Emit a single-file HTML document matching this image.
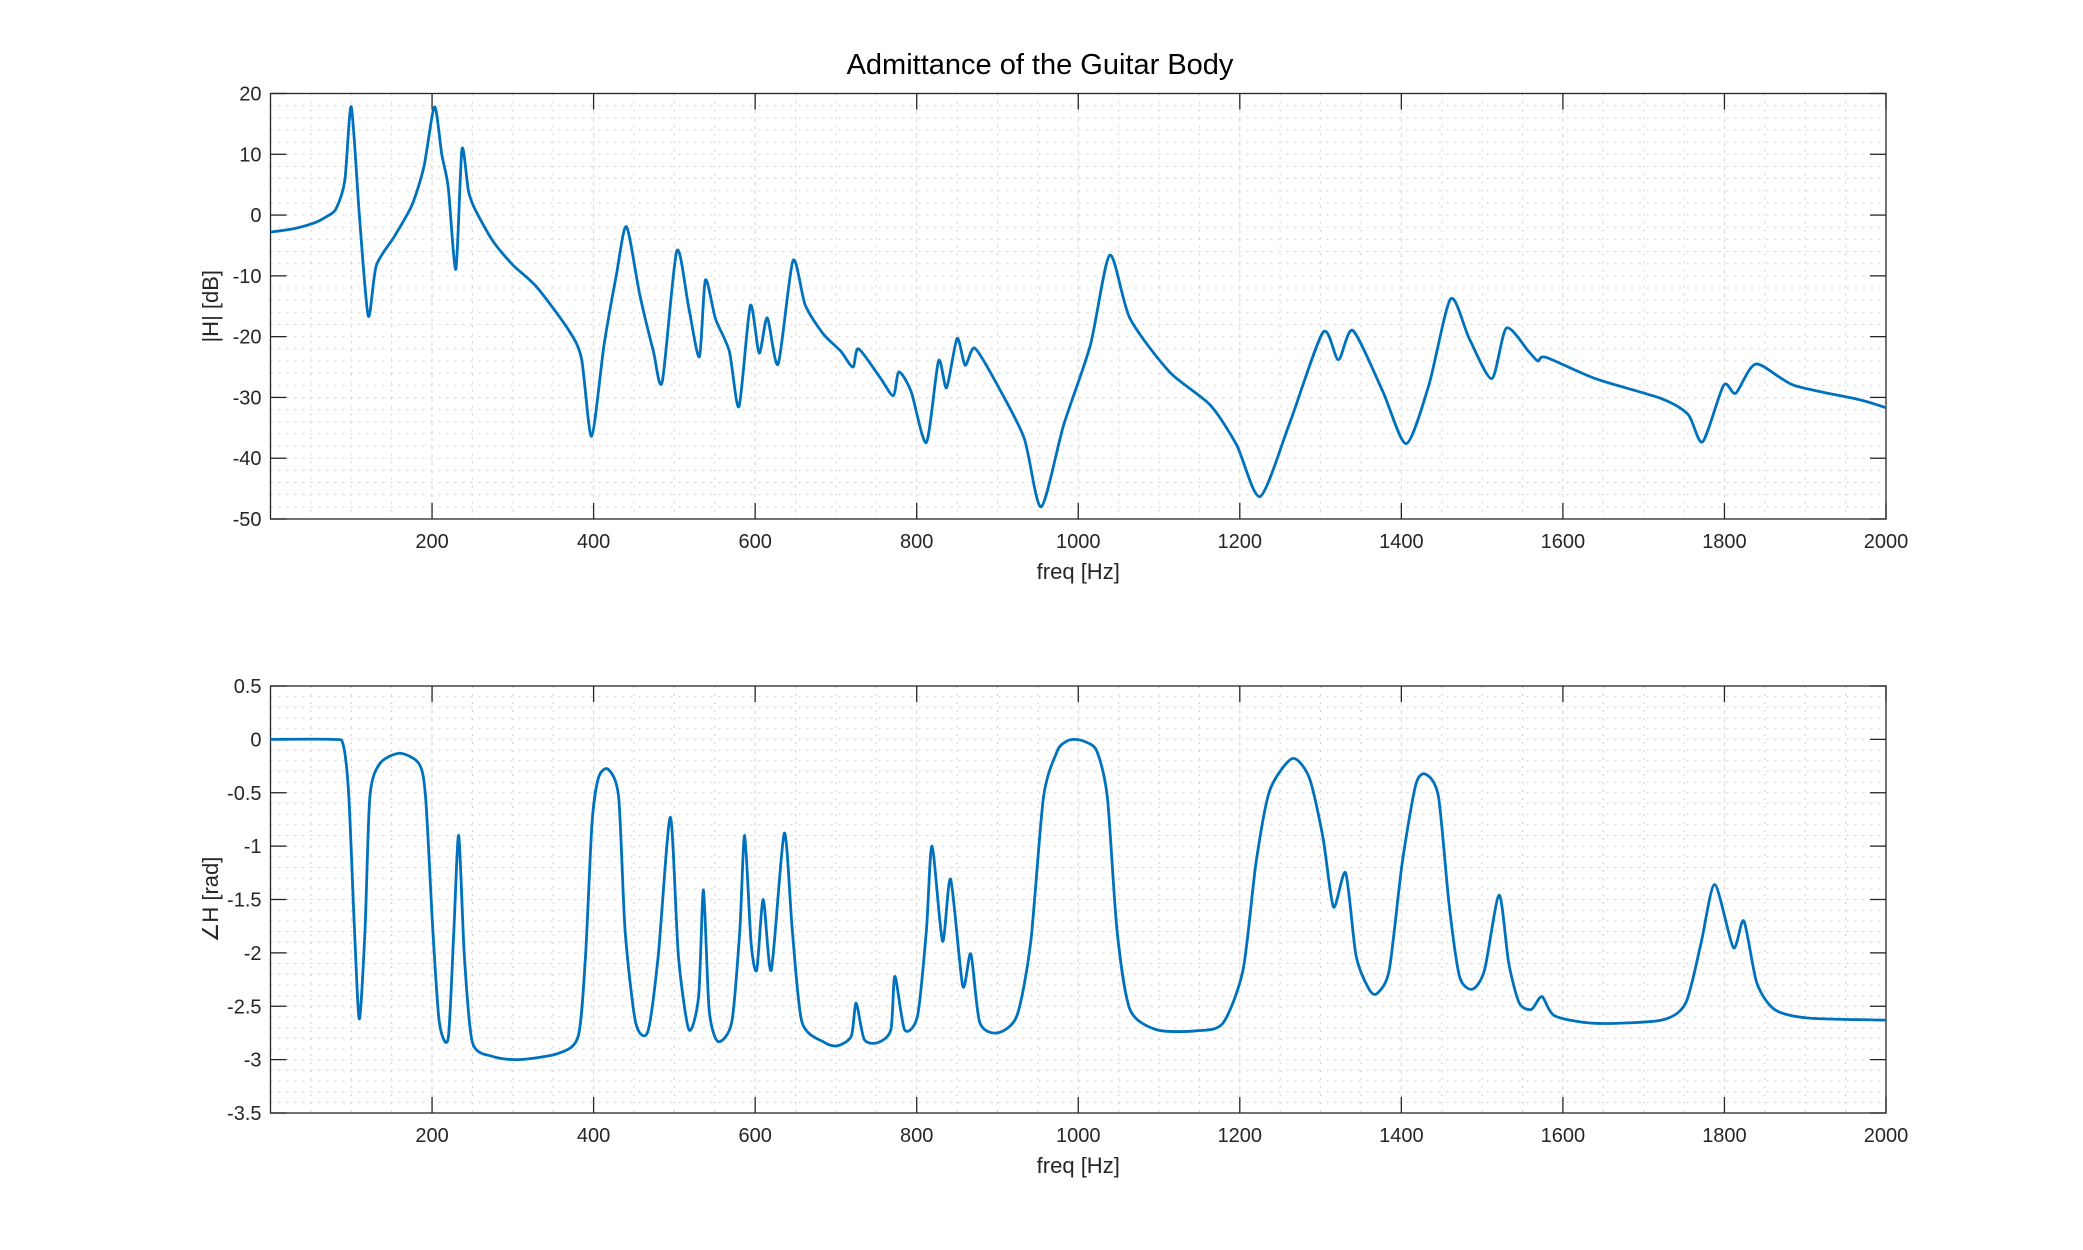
<!DOCTYPE html>
<html><head><meta charset="utf-8"><style>
html,body{margin:0;padding:0;background:#fff;}
svg{display:block;font-family:"Liberation Sans",sans-serif;}
</style></head><body>
<svg id="fig" width="2083" height="1250" viewBox="0 0 2083 1250">
<text x="1040" y="74" font-size="29" text-anchor="middle" fill="#000">Admittance of the Guitar Body</text>
<g id="p1"></g>
<g id="p2"></g>
</svg>
<script>
const magFreq=[0,30,54,70,81,92,100,110,121,131,153,175,190,203,212,220,229.5,237,245,253,275,300,330,369,385,397.5,413,428,440.6,457,474,485,503,518,531,538.4,551,568,580,594,605,615,628.5,646.8,662,684,706,721,728,755,771,778,793,812,827,837,850,860,872,900,933,954,982,1015,1039,1064,1113,1163,1196,1225,1261,1303,1322,1340,1377,1406,1434,1461,1484,1512,1530,1558,1569,1579,1640,1722,1755,1773,1799,1814,1839,1886,1968,2000];
const magDb=[-2.8,-2.2,-1.3,-0.2,1.0,5.7,17.8,0,-16.6,-8.3,-3.6,1.6,8,17.8,10,4.6,-8.9,10.8,4,1.0,-4.2,-8.2,-11.9,-18.9,-23.6,-36.4,-21.3,-10,-1.9,-13,-22.4,-27.4,-5.9,-15.4,-23.3,-10.7,-17.1,-22.4,-31.5,-14.9,-22.7,-16.9,-24.5,-7.5,-14.8,-19.5,-22.4,-25,-22,-26.8,-29.7,-25.8,-29,-37.4,-24,-28.4,-20.3,-24.7,-21.9,-28,-36.7,-48,-34.5,-21.4,-6.6,-17,-25.8,-31.2,-37.8,-46.3,-34.5,-19.3,-23.8,-19,-29,-37.6,-28,-13.8,-20.3,-26.9,-18.6,-22.5,-24,-23.4,-26.9,-30.2,-32.8,-37.3,-28,-29.3,-24.5,-28,-30.4,-31.7];
const phFreq=[0,77,90,97,104,110,117,123,135,160,184,192,201,209,220,227,233,240,250,275,308,357,381,390,398,406,418,431,439,452,467,480,495,505,518,530,536,543,554,571,581,587,595,602,610,620,636,646,658,686,702,719,725,735,752,768,773,785,801,812,819,832,842,857,867,878,900,924,941,957,974,985,995,1008,1023,1036,1048,1064,1097,1146,1179,1204,1220,1237,1265,1286,1303,1316,1331,1344,1360,1370,1385,1401,1418,1431,1446,1459,1472,1488,1503,1521,1533,1546,1561,1574,1590,1640,1722,1752,1771,1788,1811,1824,1840,1862,1903,2000];
const phRad=[0,0,-0.05,-0.54,-1.79,-2.62,-1.79,-0.54,-0.23,-0.13,-0.23,-0.54,-1.79,-2.65,-2.8,-1.79,-0.9,-2.03,-2.84,-2.97,-3.0,-2.94,-2.78,-2.03,-0.79,-0.36,-0.28,-0.54,-1.79,-2.65,-2.74,-2.03,-0.73,-2.03,-2.72,-2.41,-1.41,-2.53,-2.83,-2.65,-1.79,-0.9,-1.91,-2.16,-1.5,-2.16,-0.88,-1.79,-2.65,-2.84,-2.87,-2.78,-2.47,-2.81,-2.84,-2.72,-2.22,-2.72,-2.59,-1.79,-1.0,-1.89,-1.31,-2.31,-2.01,-2.65,-2.75,-2.59,-1.91,-0.54,-0.11,-0.02,0,-0.02,-0.11,-0.54,-1.79,-2.53,-2.72,-2.73,-2.66,-2.16,-1.16,-0.48,-0.18,-0.36,-0.92,-1.57,-1.25,-2.03,-2.34,-2.38,-2.16,-1.16,-0.42,-0.33,-0.54,-1.54,-2.22,-2.34,-2.16,-1.46,-2.1,-2.47,-2.53,-2.41,-2.59,-2.66,-2.63,-2.47,-1.91,-1.36,-1.95,-1.7,-2.28,-2.53,-2.61,-2.63];
const xTicks=[200,400,600,800,1000,1200,1400,1600,1800,2000];
const magTicks=[20,10,0,-10,-20,-30,-40,-50];
const phTicks=[0.5,0,-0.5,-1,-1.5,-2,-2.5,-3,-3.5];
const phTickLabels=["0.5","0","-0.5","-1","-1.5","-2","-2.5","-3","-3.5"];

const NS="http://www.w3.org/2000/svg";
function mk(parent,tag,attrs){const e=document.createElementNS(NS,tag);for(const k in attrs)e.setAttribute(k,attrs[k]);parent.appendChild(e);return e;}
const L=270.5,R=1886;
function drawPlot(g,top,bot,ymin,ymax,minorStep,ticks,labels,fx,fy,ylabel){
  const xs=f=>L+(f-0)/2000*(R-L);
  const ys=v=>bot-(v-ymin)/(ymax-ymin)*(bot-top);
  for(let f=50;f<2000;f+=50){
    const l=mk(g,'line',{x1:xs(f),x2:xs(f),y1:top,y2:bot,stroke:(f%200===0)?'#d6d6d6':'#cfcfcf','stroke-width':1,'stroke-dasharray':(f%200===0)?'4,4':'2,6'});
    
    
  }
  const n=Math.round((ymax-ymin)/minorStep);
  for(let i=1;i<n;i++){
    const v=ymin+i*minorStep;
    const l=mk(g,'line',{x1:L,x2:R,y1:ys(v),y2:ys(v),stroke:'#cfcfcf','stroke-width':1,'stroke-dasharray':'2,6'});
    
    
  }
  const box=mk(g,'rect',{x:L,y:top,width:R-L,height:bot-top,fill:'none',stroke:'#262626','stroke-width':1.3});
  
  
  xTicks.forEach(f=>{
    const x=xs(f);
    mk(g,'line',{x1:x,x2:x,y1:bot,y2:bot-16,stroke:'#262626','stroke-width':1.3});
    mk(g,'line',{x1:x,x2:x,y1:top,y2:top+16,stroke:'#262626','stroke-width':1.3});
    const t=mk(g,'text',{x:x,y:bot+29,'font-size':20,'text-anchor':'middle',fill:'#262626'});
    t.textContent=f;
    
    
  });
  ticks.forEach((v,i)=>{
    const y=ys(v);
    mk(g,'line',{x1:L,x2:L+16,y1:y,y2:y,stroke:'#262626','stroke-width':1.3});
    mk(g,'line',{x1:R,x2:R-16,y1:y,y2:y,stroke:'#262626','stroke-width':1.3});
    const t=mk(g,'text',{x:L-9,y:y+7,'font-size':20,'text-anchor':'end',fill:'#262626'});
    t.textContent=labels[i];
    
    
  });
  const xl=mk(g,'text',{x:(L+R)/2,y:bot+60,'font-size':22,'text-anchor':'middle',fill:'#262626'});
  xl.textContent='freq [Hz]';
  
  
  const yl=mk(g,'text',{x:0,y:0,'font-size':22,'text-anchor':'middle',fill:'#262626',transform:`translate(218,${(top+bot)/2}) rotate(-90)`});
  yl.textContent=ylabel;
  
  
  const P=fx.map((f,i)=>[xs(f),ys(fy[i])]);
  let d=`M${P[0][0]},${P[0][1]}`;
  for(let i=0;i<P.length-1;i++){
    const p0=P[Math.max(0,i-1)],p1=P[i],p2=P[i+1],p3=P[Math.min(P.length-1,i+2)];
    const k=1/8;
    d+=` C${p1[0]+(p2[0]-p0[0])*k},${p1[1]+(p2[1]-p0[1])*k} ${p2[0]-(p3[0]-p1[0])*k},${p2[1]-(p3[1]-p1[1])*k} ${p2[0]},${p2[1]}`;
  }
  const path=mk(g,'path',{d:d,fill:'none',stroke:'#0072BD','stroke-width':2.8,'stroke-linejoin':'round'});
  
  
}
drawPlot(document.getElementById('p1'),93.5,519,-50,20,2,magTicks,magTicks.map(String),magFreq,magDb,'|H| [dB]');
drawPlot(document.getElementById('p2'),686,1113,-3.5,0.5,0.1,phTicks,phTickLabels,phFreq,phRad,'\u2220H [rad]');
</script>
</body></html>
